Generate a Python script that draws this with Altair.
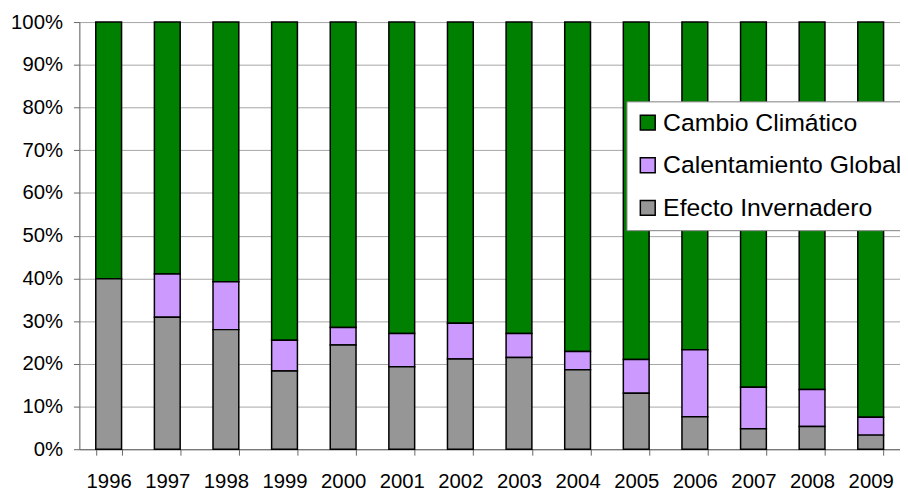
import altair as alt
import pandas as pd

years = ["1996", "1997", "1998", "1999", "2000", "2001", "2002",
         "2003", "2004", "2005", "2006", "2007", "2008", "2009"]
efecto = [39.9, 30.9, 28.0, 18.3, 24.4, 19.3, 21.1, 21.5, 18.6, 13.1, 7.6, 4.8, 5.3, 3.3]
calentamiento = [0.0, 10.1, 11.2, 7.2, 4.1, 7.8, 8.4, 5.6, 4.3, 7.9, 15.7, 9.7, 8.7, 4.2]
cambio = [60.1, 59.0, 60.8, 74.5, 71.5, 72.9, 70.5, 72.9, 77.1, 79.0, 76.7, 85.5, 86.0, 92.5]

series = ["Cambio Climático", "Calentamiento Global", "Efecto Invernadero"]
colors = ["#008000", "#CC99FF", "#969696"]
stack_order = {"Efecto Invernadero": 0, "Calentamiento Global": 1, "Cambio Climático": 2}

rows = []
for name, vals in zip(series, [cambio, calentamiento, efecto]):
    for y, v in zip(years, vals):
        rows.append({"year": y, "serie": name, "value": v / 100.0, "ord": stack_order[name]})
df = pd.DataFrame(rows)

FONT = "Liberation Sans"

chart = alt.Chart(df).mark_bar(stroke="black", strokeWidth=1.5).encode(
    x=alt.X("year:N", sort=years, title=None,
            scale=alt.Scale(paddingInner=0.56, paddingOuter=0.28),
            axis=alt.Axis(labelAngle=0, tickBand="extent", grid=False,
                          labelFontSize=20.5, labelFont=FONT, labelColor="black",
                          labelPadding=17, tickSize=6, domainColor="#666666",
                          tickColor="#666666", labelBaseline="top")),
    y=alt.Y("value:Q", stack="zero", title=None,
            scale=alt.Scale(domain=[0, 1], nice=False),
            axis=alt.Axis(format=".0%", values=[i / 10 for i in range(11)],
                          labelFontSize=20.5, labelFont=FONT, labelColor="black",
                          labelPadding=11, tickSize=6, domainColor="#666666",
                          tickColor="#666666", gridColor="#a6a6a6", gridWidth=1)),
    color=alt.Color("serie:N",
                    scale=alt.Scale(domain=series, range=colors),
                    legend=alt.Legend(title=None, orient="none", legendX=552, legendY=80,
                                      symbolType="square", symbolSize=225,
                                      symbolStrokeColor="black", symbolStrokeWidth=1.5,
                                      labelFontSize=25, labelFont=FONT, labelColor="black",
                                      labelOffset=3, rowPadding=17, padding=9,
                                      fillColor="white", strokeColor="#808080",
                                      labelLimit=400)),
    order=alt.Order("ord:Q", sort="ascending"),
).properties(
    width=828, height=431,
    autosize=alt.AutoSizeParams(type="none"),
    padding={"left": 72, "top": 12, "right": 0, "bottom": 44},
).configure_view(stroke=None).configure(background="white")

chart.save("out.html", embed_options={"renderer": "svg", "actions": False})
